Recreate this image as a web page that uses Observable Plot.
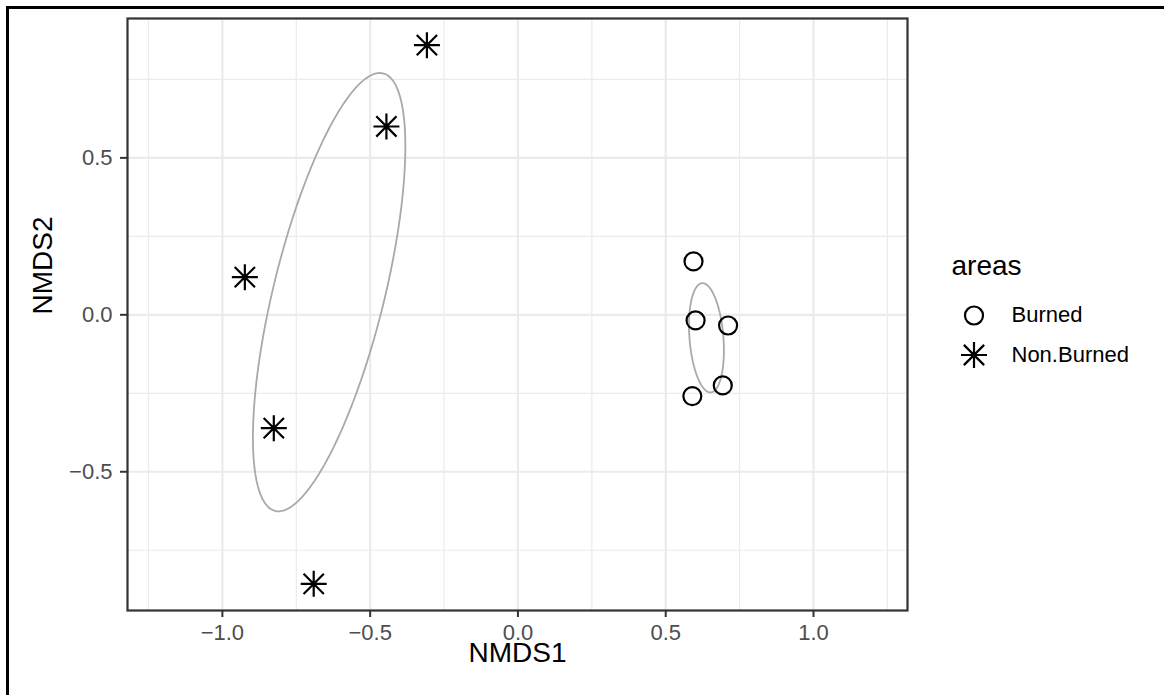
<!DOCTYPE html>
<html>
<head>
<meta charset="utf-8">
<script src="https://cdn.jsdelivr.net/npm/d3@7"></script>
<script src="https://cdn.jsdelivr.net/npm/@observablehq/plot@0.6"></script>
<style>
  html, body { margin: 0; padding: 0; background: #fff; overflow: hidden; }
  #wrap { position: relative; width: 1164px; height: 695px; overflow: hidden; font-family: "Liberation Sans", Arial, Helvetica, sans-serif; }
  #lineTop { position: absolute; left: 6px; top: 6px; width: 1158px; height: 2.5px; background: #000; }
  #lineLeft { position: absolute; left: 6px; top: 6px; width: 2.5px; height: 689px; background: #000; }
  #legend { position: absolute; left: 0; top: 0; pointer-events: none; }
</style>
</head>
<body>
<div id="wrap">
  <div id="chart"></div>
  <svg id="legend" width="1160" height="690"></svg>
  <div id="lineTop"></div>
  <div id="lineLeft"></div>
</div>
<script>
// ---- data ----
const areas = ["Burned", "Non.Burned"];
const burnedX = [0.594, 0.601, 0.711, 0.693, 0.590];
const burnedY = [0.170, -0.018, -0.034, -0.225, -0.259];
const nonBurnedX = [-0.308, -0.445, -0.924, -0.826, -0.691];
const nonBurnedY = [0.859, 0.600, 0.120, -0.361, -0.857];

const majorX = [-1, -0.5, 0, 0.5, 1];
const minorX = [-1.25, -0.75, -0.25, 0.25, 0.75, 1.25];
const majorY = [-0.5, 0, 0.5];
const minorY = [-0.75, -0.25, 0.25, 0.75];
const xDomain = [-1.321, 1.318];
const yDomain = [-0.942, 0.944];

// ---- derived tables ----
const burned = burnedX.map((x, i) => ({area: areas[0], x, y: burnedY[i]}));
const nonBurned = nonBurnedX.map((x, i) => ({area: areas[1], x, y: nonBurnedY[i]}));

// standard-deviation ellipse from each group's covariance
function sdEllipse(pts, area) {
  const n = pts.length;
  const mx = d3.mean(pts, d => d.x), my = d3.mean(pts, d => d.y);
  let sxx = 0, syy = 0, sxy = 0;
  for (const p of pts) { sxx += (p.x - mx) ** 2; syy += (p.y - my) ** 2; sxy += (p.x - mx) * (p.y - my); }
  sxx /= (n - 1); syy /= (n - 1); sxy /= (n - 1);
  const a = Math.sqrt(sxx), b = sxy / a, c = Math.sqrt(Math.max(0, syy - b * b));
  return d3.range(0, 101).map(k => {
    const t = (k / 100) * 2 * Math.PI;
    return {area, x: mx + a * Math.cos(t), y: my + b * Math.cos(t) + c * Math.sin(t)};
  });
}
const ellipses = [...sdEllipse(burned, areas[0]), ...sdEllipse(nonBurned, areas[1])];

// ggplot shape 8: plus + cross
const star8 = {
  draw(ctx, size) {
    const r = Math.sqrt(size / Math.PI);
    const d = r * 0.78;
    ctx.moveTo(-r, 0); ctx.lineTo(r, 0);
    ctx.moveTo(0, -r); ctx.lineTo(0, r);
    ctx.moveTo(-d, -d); ctx.lineTo(d, d);
    ctx.moveTo(-d, d); ctx.lineTo(d, -d);
  }
};

const font = "'Liberation Sans', Arial, Helvetica, sans-serif";

const chart = Plot.plot({
  width: 1160,
  height: 695,
  marginLeft: 127,
  marginRight: 253,
  marginTop: 18,
  marginBottom: 85,
  style: {fontFamily: font, fontSize: "22px", background: "transparent"},
  x: {domain: xDomain},
  y: {domain: yDomain},
  marks: [
    Plot.ruleX(minorX, {stroke: "#ebebeb", strokeWidth: 1.2}),
    Plot.ruleY(minorY, {stroke: "#ebebeb", strokeWidth: 1.2}),
    Plot.ruleX(majorX, {stroke: "#ebebeb", strokeWidth: 2.2}),
    Plot.ruleY(majorY, {stroke: "#ebebeb", strokeWidth: 2.2}),
    Plot.line(ellipses, {x: "x", y: "y", z: "area", stroke: "#a9a9a9", strokeWidth: 1.8}),
    Plot.dot(burned, {x: "x", y: "y", r: 9, stroke: "black", strokeWidth: 2.2, fill: "none"}),
    Plot.dot(nonBurned, {x: "x", y: "y", symbol: star8, r: 13, stroke: "black", strokeWidth: 2.2, fill: "none"}),
    Plot.frame({stroke: "#333333", strokeWidth: 2.2}),
    Plot.axisX(majorX, {tickSize: 7, tickPadding: 7, stroke: "#333333", strokeWidth: 2, fill: "#4d4d4d",
      fontSize: 22, tickFormat: d3.format(".1f"), label: null}),
    Plot.axisY(majorY, {tickSize: 7, tickPadding: 8, stroke: "#333333", strokeWidth: 2, fill: "#4d4d4d",
      fontSize: 22, tickFormat: d3.format(".1f"), label: null}),
    Plot.text(["NMDS1"], {text: d => d, frameAnchor: "bottom", dy: 51, fontSize: 28, fill: "black"}),
    Plot.text(["NMDS2"], {text: d => d, frameAnchor: "left", dx: -84, rotate: -90, fontSize: 28, fill: "black"})
  ]
});
document.getElementById("chart").appendChild(chart);

// ---- legend ----
const lg = d3.select("#legend").style("font-family", font);
lg.append("text").attr("x", 951.5).attr("y", 275).attr("font-size", 28).attr("fill", "black").text("areas");
const items = [
  {label: areas[0], symbol: d3.symbolCircle, r: 9, cy: 315.5, ty: 321.5},
  {label: areas[1], symbol: star8, r: 13, cy: 355, ty: 361.5}
];
for (const it of items) {
  lg.append("path")
    .attr("transform", `translate(974,${it.cy})`)
    .attr("d", d3.symbol(it.symbol, it.r * it.r * Math.PI)())
    .attr("fill", "none").attr("stroke", "black").attr("stroke-width", 2.2);
  lg.append("text").attr("x", 1011.5).attr("y", it.ty).attr("font-size", 22).attr("fill", "black").text(it.label);
}
</script>
</body>
</html>
